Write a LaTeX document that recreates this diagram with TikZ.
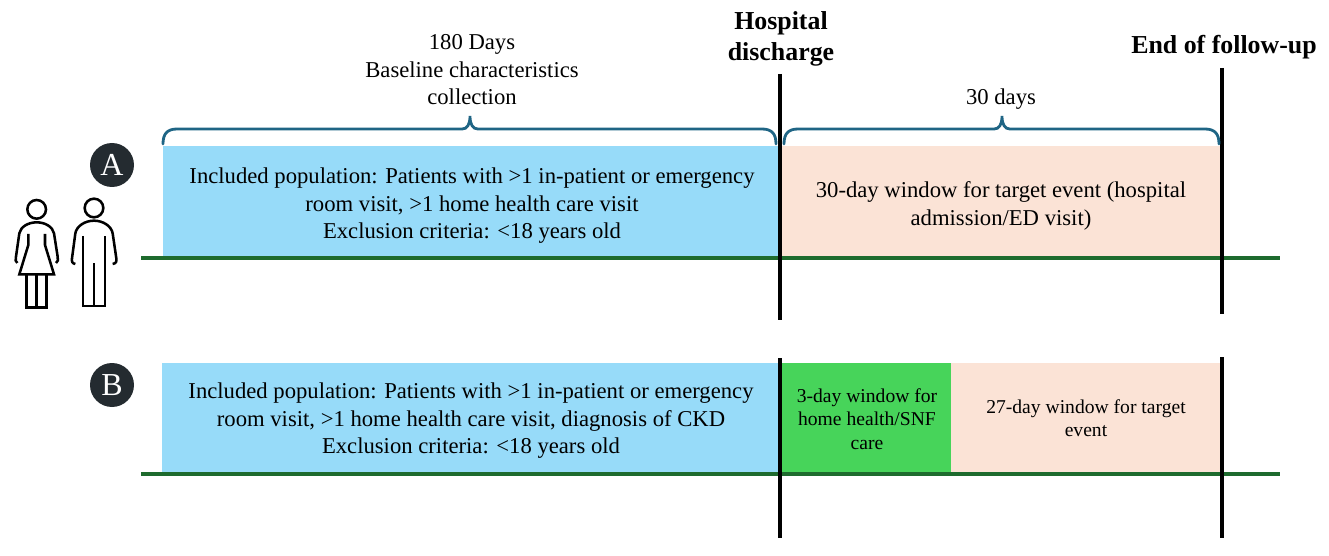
\documentclass[tikz,border=0pt]{standalone}
\usepackage{fontspec}
\setmainfont{Liberation Serif}
\definecolor{bluebox}{HTML}{97DBF9}
\definecolor{peachbox}{HTML}{FBE3D6}
\definecolor{greenbox}{HTML}{47D45A}
\definecolor{tline}{HTML}{1E6B2E}
\definecolor{bracec}{HTML}{1F6585}
\definecolor{badgec}{HTML}{242B30}
\tikzset{
 x=0.75pt,y=-0.75pt,
 txt/.style={align=center,font=\fontsize{17}{20.6}\selectfont,text=black},
 small/.style={align=center,font=\fontsize{14.7}{17.7}\selectfont,text=black},
 head/.style={align=center,font=\fontsize{19.4}{23}\selectfont\bfseries,text=black},
 timeline/.style={draw=tline,line width=2.4pt},
 marker/.style={draw=black,line width=2.6pt},
 bracket/.style={draw=bracec,line width=2.1pt},
 badge/.style={circle,fill=badgec,text=white,minimum size=33pt,inner sep=0pt,font=\fontsize{24}{26}\selectfont},
 person/.style={draw=black,line width=1.9pt,line join=miter,x=0.25pt,y=-0.25pt}
}
\newcommand{\curlybrace}[4]{% left x, right x, tip x, bottom y
 \draw[bracket,line cap=round] (#1,#4) .. controls (#1,134) and (#1+4,129) .. (#1+14,129)
   -- (#3-8,129) .. controls (#3-3,129) and (#3,125) .. (#3,116)
   .. controls (#3,125) and (#3+3,129) .. (#3+8,129)
   -- (#2-14,129) .. controls (#2-4,129) and (#2,134) .. (#2,#4);}
\begin{document}
\begin{tikzpicture}
\useasboundingbox (0,0) rectangle (1329,556);
% boxes
\fill[bluebox] (163,146) rectangle (780,258);
\fill[peachbox] (780,146) rectangle (1222,258);
\fill[bluebox] (162,363) rectangle (780,472);
\fill[greenbox] (780,363) rectangle (951,472);
\fill[peachbox] (951,363) rectangle (1222,472);
% timelines
\coordinate (a1) at (141,258); \coordinate (a2) at (1280,258);
\coordinate (b1) at (141,474); \coordinate (b2) at (1280,474);
\draw[timeline] (a1) -- (a2);
\draw[timeline] (b1) -- (b2);
% markers
\coordinate (h1) at (780,74); \coordinate (h2) at (780,320);
\coordinate (h3) at (780,358); \coordinate (h4) at (780,538);
\coordinate (e1) at (1222,68); \coordinate (e2) at (1222,314);
\coordinate (e3) at (1222,357); \coordinate (e4) at (1222,538);
\draw[marker] (h1) -- (h2);
\draw[marker] (h3) -- (h4);
\draw[marker] (e1) -- (e2);
\draw[marker] (e3) -- (e4);
% braces
\curlybrace{163}{776}{470}{144}
\curlybrace{784}{1219}{1002}{144}
% labels
\node[txt] (base) at (472,70) {180 Days\\Baseline characteristics\\collection};
\node[txt] (thirty) at (1001,99) {30 days};
\node[head] (hd) at (781,39) {Hospital\\discharge};
\node[head] (fu) at (1224,47) {End of follow-up};
\node[txt] (ta) at (472,206) {Included population: Patients with >1 in-patient or emergency\\room visit, >1 home health care visit\\Exclusion criteria: <18 years old};
\node[txt] (tb) at (1001,206) {30-day window for target event (hospital\\admission/ED visit)};
\node[txt] (tc) at (471,421) {Included population: Patients with >1 in-patient or emergency\\room visit, >1 home health care visit, diagnosis of CKD\\Exclusion criteria: <18 years old};
\node[small] (td) at (867,419) {3-day window for\\home health/SNF\\care};
\node[small] (te) at (1086,418) {27-day window for target\\event};
\node[badge] (A) at (112,165) {A};
\node[badge] (B) at (112,385) {B};
% people
\begin{scope}[shift={(0,130)},person]
 \draw (110,238) circle (28);
 \draw (52,399) .. controls (45,395) and (47,390) .. (48,380) -- (58,310) .. controls (62,290) and (85,277) .. (110,277) .. controls (135,277) and (158,290) .. (162,310) -- (173,380) .. controls (174,390) and (175,395) .. (168,399);
 \draw (85,312) -- (85,345) -- (58,433) -- (162,433) -- (135,345) -- (135,312);
 \draw (80,433) -- (80,532) -- (140,532) -- (140,433);
 \draw (110,433) -- (110,532);
 \draw (282,234) circle (28);
 \draw (226,402) .. controls (216,400) and (215,395) .. (216,385) -- (226,310) .. controls (230,288) and (255,272) .. (282,272) .. controls (309,272) and (334,288) .. (338,310) -- (349,385) .. controls (350,395) and (349,400) .. (338,402);
 \draw (249,318) -- (249,528) -- (315,528) -- (315,318);
 \draw (282,400) -- (282,528);
\end{scope}
\end{tikzpicture}
\end{document}
